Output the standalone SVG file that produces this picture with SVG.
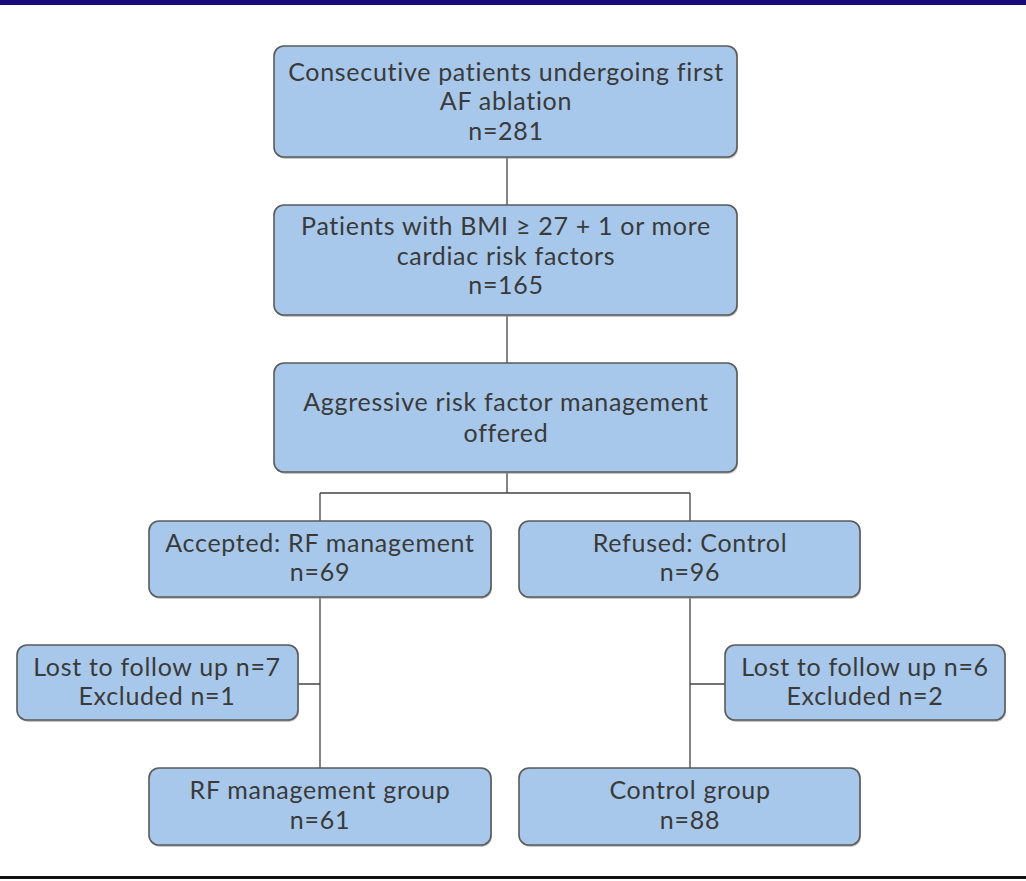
<svg xmlns="http://www.w3.org/2000/svg" width="1026" height="881" viewBox="0 0 1026 881">
<style>
.box{fill:#a7c8ea;stroke:#5a5a5a;stroke-width:1.6}
.sh{fill:#9a9a9a;opacity:0.6}
.t{font-family:Lato,"Open Sans","Liberation Sans",sans-serif;font-size:25px;letter-spacing:0.7px;fill:#3a3a3a;text-anchor:middle}
.c{stroke:#444;stroke-width:1.3;fill:none}
</style>
<rect x="0" y="0" width="1026" height="5" fill="#1b0a7c"/>
<rect x="0" y="876" width="1026" height="3" fill="#111"/>
<g id="connectors">
<path class="c" d="M507 157V205M507 315V363M507 472V493M320 493H690M320 493V521M690 493V521M320 597V768M298 684H320M690 597V768M690 684H725"/>
</g>
<g id="n1"><rect class="sh" x="275" y="48" width="463" height="111" rx="10"/><rect class="box" x="274" y="46" width="463" height="111" rx="10"/>
<text class="t" x="506" y="81">Consecutive patients undergoing first</text><text class="t" x="506" y="110">AF ablation</text><text class="t" x="506" y="140">n=281</text></g>
<g id="n2"><rect class="sh" x="275" y="207" width="463" height="110" rx="10"/><rect class="box" x="274" y="205" width="463" height="110" rx="10"/>
<text class="t" x="506" y="235">Patients with BMI ≥ 27 + 1 or more</text><text class="t" x="506" y="265">cardiac risk factors</text><text class="t" x="506" y="294">n=165</text></g>
<g id="n3"><rect class="sh" x="275" y="365" width="463" height="109" rx="10"/><rect class="box" x="274" y="363" width="463" height="109" rx="10"/>
<text class="t" x="506" y="411">Aggressive risk factor management</text><text class="t" x="506" y="442">offered</text></g>
<g id="n4"><rect class="sh" x="150" y="523" width="342" height="76" rx="10"/><rect class="box" x="149" y="521" width="342" height="76" rx="10"/>
<text class="t" x="320" y="552">Accepted: RF management</text><text class="t" x="320" y="581">n=69</text></g>
<g id="n5"><rect class="sh" x="520" y="523" width="341" height="76" rx="10"/><rect class="box" x="519" y="521" width="341" height="76" rx="10"/>
<text class="t" x="690" y="552">Refused: Control</text><text class="t" x="690" y="581">n=96</text></g>
<g id="n6"><rect class="sh" x="18" y="647" width="281" height="75" rx="10"/><rect class="box" x="17" y="645" width="281" height="75" rx="10"/>
<text class="t" x="157" y="676">Lost to follow up n=7</text><text class="t" x="157" y="705">Excluded n=1</text></g>
<g id="n7"><rect class="sh" x="726" y="647" width="280" height="75" rx="10"/><rect class="box" x="725" y="645" width="280" height="75" rx="10"/>
<text class="t" x="865" y="676">Lost to follow up n=6</text><text class="t" x="865" y="705">Excluded n=2</text></g>
<g id="n8"><rect class="sh" x="150" y="770" width="342" height="77" rx="10"/><rect class="box" x="149" y="768" width="342" height="77" rx="10"/>
<text class="t" x="320" y="799">RF management group</text><text class="t" x="320" y="829">n=61</text></g>
<g id="n9"><rect class="sh" x="520" y="770" width="341" height="77" rx="10"/><rect class="box" x="519" y="768" width="341" height="77" rx="10"/>
<text class="t" x="690" y="799">Control group</text><text class="t" x="690" y="829">n=88</text></g>
</svg>
